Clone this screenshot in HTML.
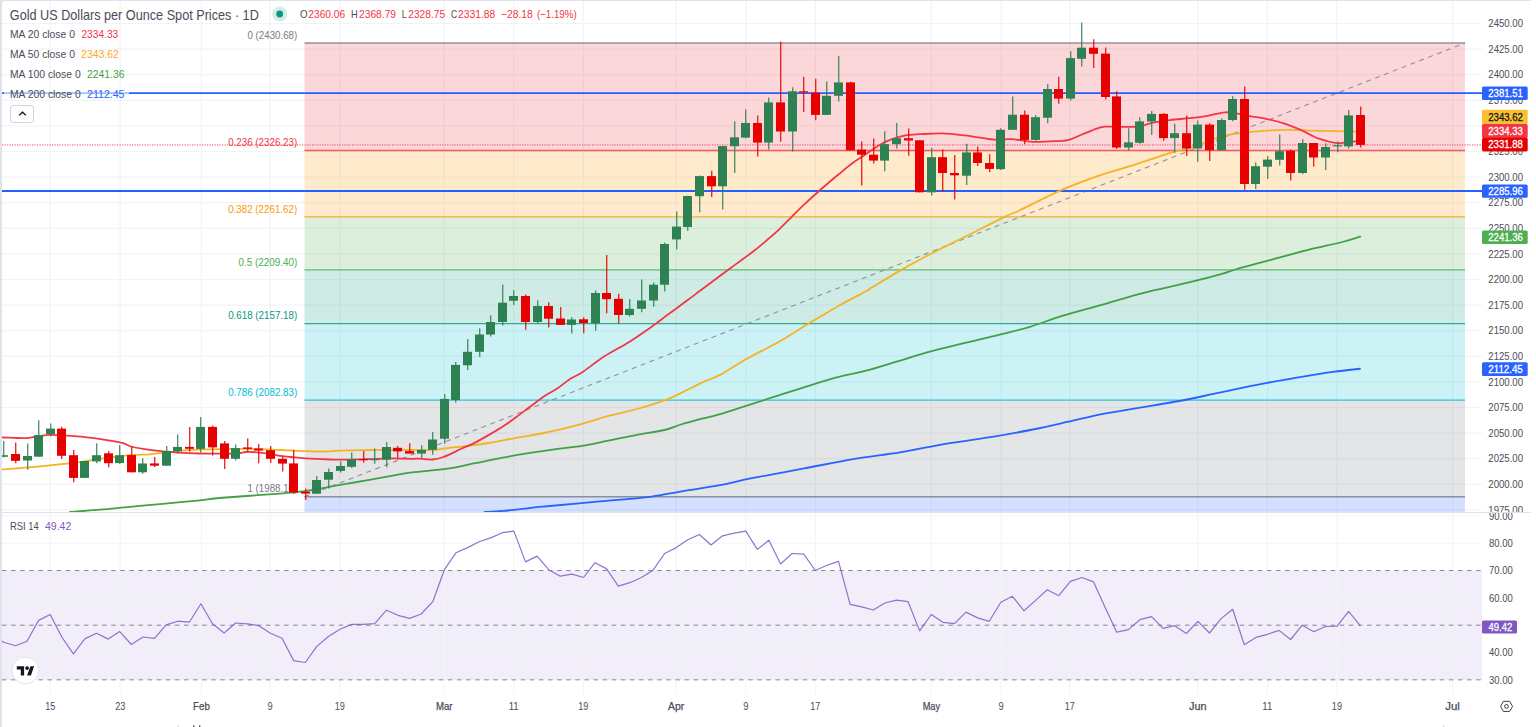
<!DOCTYPE html>
<html><head><meta charset="utf-8"><title>Gold chart</title>
<style>html,body{margin:0;padding:0;background:#fff;overflow:hidden;width:1536px;height:727px}svg{display:block}</style>
</head><body>
<svg width="1536" height="727" viewBox="0 0 1536 727" font-family='"Liberation Sans", sans-serif'>
<defs>
<clipPath id="cm"><rect x="2" y="1" width="1480" height="511"/></clipPath>
<clipPath id="cr"><rect x="2" y="513" width="1480" height="181"/></clipPath>
<clipPath id="cpa"><rect x="1482" y="1" width="54" height="511"/></clipPath>
<clipPath id="cpr"><rect x="1482" y="513" width="54" height="181"/></clipPath>
</defs>
<rect x="0" y="0" width="1536" height="727" fill="#ffffff"/>
<rect x="0" y="0" width="1531" height="727" fill="#e0e3eb"/>
<rect x="2" y="1" width="1560" height="760" rx="3" fill="#ffffff"/>
<g clip-path="url(#cm)">
<path d="M2 23.5H1482M2 49.1H1482M2 74.7H1482M2 100.3H1482M2 125.9H1482M2 151.5H1482M2 177.1H1482M2 202.7H1482M2 228.3H1482M2 253.9H1482M2 279.5H1482M2 305.1H1482M2 330.7H1482M2 356.3H1482M2 381.9H1482M2 407.5H1482M2 433.1H1482M2 458.7H1482M2 484.3H1482M2 509.9H1482M50.2 1V512M120.2 1V512M201.5 1V512M270.1 1V512M339.7 1V512M444.2 1V512M513.7 1V512M583.3 1V512M676.1 1V512M745.8 1V512M815.3 1V512M931.4 1V512M1001 1V512M1069.8 1V512M1197.8 1V512M1267.4 1V512M1336.9 1V512M1452.6 1V512" stroke="#f2f3f6" stroke-width="1.2" fill="none"/>
<rect x="304.5" y="43" width="1160.5" height="107.5" fill="#f23645" fill-opacity="0.2"/>
<rect x="304.5" y="150.5" width="1160.5" height="66.4" fill="#ff9800" fill-opacity="0.2"/>
<rect x="304.5" y="216.9" width="1160.5" height="52.9" fill="#4caf50" fill-opacity="0.2"/>
<rect x="304.5" y="269.8" width="1160.5" height="53.8" fill="#089981" fill-opacity="0.2"/>
<rect x="304.5" y="323.6" width="1160.5" height="76.5" fill="#00bcd4" fill-opacity="0.2"/>
<rect x="304.5" y="400.1" width="1160.5" height="96.6" fill="#787b86" fill-opacity="0.2"/>
<rect x="304.5" y="496.7" width="1160.5" height="20" fill="#2962ff" fill-opacity="0.2"/>
<line x1="304.5" y1="43" x2="1465" y2="43" stroke="#787b86" stroke-width="1.35" stroke-opacity="0.8"/>
<line x1="304.5" y1="150.5" x2="1465" y2="150.5" stroke="#f23645" stroke-width="1.35" stroke-opacity="0.8"/>
<line x1="304.5" y1="216.9" x2="1465" y2="216.9" stroke="#ff9800" stroke-width="1.35" stroke-opacity="0.8"/>
<line x1="304.5" y1="269.8" x2="1465" y2="269.8" stroke="#4caf50" stroke-width="1.35" stroke-opacity="0.8"/>
<line x1="304.5" y1="323.6" x2="1465" y2="323.6" stroke="#089981" stroke-width="1.35" stroke-opacity="0.8"/>
<line x1="304.5" y1="400.1" x2="1465" y2="400.1" stroke="#00bcd4" stroke-width="1.35" stroke-opacity="0.8"/>
<line x1="304.5" y1="496.7" x2="1465" y2="496.7" stroke="#787b86" stroke-width="1.35" stroke-opacity="0.8"/>
<text x="247.5" y="38.7" font-size="11.6" fill="#787b86" textLength="49.7" lengthAdjust="spacingAndGlyphs">0 (2430.68)</text>
<text x="228.2" y="146.2" font-size="11.6" fill="#f23645" textLength="69" lengthAdjust="spacingAndGlyphs">0.236 (2326.23)</text>
<text x="228.2" y="212.6" font-size="11.6" fill="#ff9800" textLength="69" lengthAdjust="spacingAndGlyphs">0.382 (2261.62)</text>
<text x="238.5" y="265.5" font-size="11.6" fill="#4caf50" textLength="58.7" lengthAdjust="spacingAndGlyphs">0.5 (2209.40)</text>
<text x="228.2" y="319.3" font-size="11.6" fill="#089981" textLength="69" lengthAdjust="spacingAndGlyphs">0.618 (2157.18)</text>
<text x="228.2" y="395.8" font-size="11.6" fill="#00bcd4" textLength="69" lengthAdjust="spacingAndGlyphs">0.786 (2082.83)</text>
<text x="247.5" y="492.4" font-size="11.6" fill="#787b86" textLength="49.7" lengthAdjust="spacingAndGlyphs">1 (1988.10)</text>
<line x1="304.5" y1="496.8" x2="1465" y2="43" stroke="#80838d" stroke-width="1.1" stroke-dasharray="5 4.5" stroke-opacity="0.85"/>
<line x1="2" y1="93.15" x2="1482" y2="93.15" stroke="#2260ff" stroke-width="1.9"/>
<line x1="2" y1="190.95" x2="1482" y2="190.95" stroke="#2260ff" stroke-width="1.9"/>
<line x1="2" y1="144.9" x2="1482" y2="144.9" stroke="#f23645" stroke-width="1.7" stroke-dasharray="1.25 1.25" stroke-opacity="0.5"/>
<path d="M484.7 512C487.82 511.82 493.77 511.78 503.4 510.9C513.03 510.02 529.47 508 542.5 506.7C555.53 505.4 568.58 504.27 581.6 503.1C594.62 501.93 608.88 500.78 620.6 499.7C632.32 498.62 641.48 498.03 651.9 496.6C662.32 495.17 671.75 493 683.1 491.1C694.45 489.2 708.52 487.35 720 485.2C731.48 483.05 737.97 481 752 478.2C766.03 475.4 786.82 471.67 804.2 468.4C821.58 465.13 840.33 461.27 856.3 458.6C872.27 455.93 884.9 454.9 900 452.4C915.1 449.9 931.27 446.23 946.9 443.6C962.53 440.97 979.48 438.95 993.8 436.6C1008.12 434.25 1019.78 432.12 1032.8 429.5C1045.82 426.88 1060.18 423.5 1071.9 420.9C1083.62 418.3 1091.75 416.1 1103.1 413.9C1114.45 411.7 1126.4 410.02 1140 407.7C1153.6 405.38 1172.7 402.25 1184.7 400C1196.7 397.75 1202.88 396.15 1212 394.2C1221.12 392.25 1230.4 390.15 1239.4 388.3C1248.4 386.45 1256.9 384.8 1266 383.1C1275.1 381.4 1282.82 379.97 1294 378.1C1305.18 376.23 1322.1 373.46 1333.1 371.9C1344.1 370.34 1355.52 369.27 1360 368.75" fill="none" stroke="#2962ff" stroke-width="1.8" stroke-linejoin="round" stroke-linecap="round"/>
<path d="M70 512C75 511.62 90 510.57 100 509.7C110 508.83 120 507.73 130 506.8C140 505.87 148.33 505.18 160 504.1C171.67 503.02 190.17 501.32 200 500.3C209.83 499.28 205.67 499.12 219 498C232.33 496.88 265.62 494.75 280 493.6C294.38 492.45 297.97 492.07 305.3 491.1C312.63 490.13 317.22 489 324 487.8C330.78 486.6 338.67 485.18 346 483.9C353.33 482.62 360.67 481.38 368 480.1C375.33 478.82 382.67 477.48 390 476.2C397.33 474.92 402.42 473.65 412 472.4C421.58 471.15 437 470.23 447.5 468.7C458 467.17 465.83 465.03 475 463.2C484.17 461.37 493.33 459.42 502.5 457.7C511.67 455.98 520.82 454.38 530 452.9C539.18 451.42 548.93 449.97 557.6 448.8C566.27 447.63 573.35 447.3 582 445.9C590.65 444.5 600.33 442.23 609.5 440.4C618.67 438.57 627.83 436.63 637 434.9C646.17 433.17 657.17 431.73 664.5 430C671.83 428.27 674.58 426.43 681 424.5C687.42 422.57 696.5 420.12 703 418.4C709.5 416.68 709.72 417.28 720 414.2C730.28 411.12 749.8 404.67 764.7 399.9C779.6 395.13 796.88 389.47 809.4 385.6C821.92 381.73 829.7 379.35 839.8 376.7C849.9 374.05 854.65 373.97 870 369.7C885.35 365.43 911.27 356.68 931.9 351.1C952.53 345.52 977.45 340.25 993.8 336.2C1010.15 332.15 1018.75 330.13 1030 326.8C1041.25 323.47 1049.2 319.9 1061.3 316.2C1073.4 312.5 1088.83 308.5 1102.6 304.6C1116.37 300.7 1129.33 296.53 1143.9 292.8C1158.47 289.07 1176.85 285.4 1190 282.2C1203.15 279 1214.98 275.8 1222.8 273.6C1230.62 271.4 1228.7 271.33 1236.9 269C1245.1 266.67 1260.28 262.73 1272 259.6C1283.72 256.47 1295.48 253.13 1307.2 250.2C1318.92 247.27 1333.47 244.25 1342.3 242C1351.13 239.75 1357.22 237.58 1360.2 236.7" fill="none" stroke="#43a047" stroke-width="1.8" stroke-linejoin="round" stroke-linecap="round"/>
<path d="M2 469.4C8.33 468.88 27.83 467.43 40 466.3C52.17 465.17 65 463.83 75 462.6C85 461.37 90.83 460.13 100 458.9C109.17 457.67 121.67 455.97 130 455.2C138.33 454.43 143.33 454.83 150 454.3C156.67 453.77 163.33 452.73 170 452C176.67 451.27 181.67 450.37 190 449.9C198.33 449.43 210.5 449.38 220 449.2C229.5 449.02 237 448.67 247 448.8C257 448.93 270.28 449.62 280 450C289.72 450.38 297.97 450.85 305.3 451.1C312.63 451.35 317.22 451.62 324 451.5C330.78 451.38 338.67 450.65 346 450.4C353.33 450.15 360.67 450.1 368 450C375.33 449.9 382.67 449.8 390 449.8C397.33 449.8 404.7 449.98 412 450C419.3 450.02 427.88 450.22 433.8 449.9C439.72 449.58 441.77 448.78 447.5 448.1C453.23 447.42 461.32 446.65 468.2 445.8C475.08 444.95 480.78 444.33 488.8 443C496.82 441.67 507.13 439.47 516.3 437.8C525.47 436.13 536.52 434.4 543.8 433C551.08 431.6 553.63 430.92 560 429.4C566.37 427.88 573.75 426.18 582 423.9C590.25 421.62 600.33 418.18 609.5 415.7C618.67 413.22 629.67 410.93 637 409C644.33 407.07 648.55 405.65 653.5 404.1C658.45 402.55 662.12 401.53 666.7 399.7C671.28 397.87 674.95 396.03 681 393.1C687.05 390.17 696.5 385.13 703 382.1C709.5 379.07 712.7 378.78 720 374.9C727.3 371.02 736.97 364.32 746.8 358.8C756.63 353.28 768.57 347.75 779 341.8C789.43 335.85 799.27 329.2 809.4 323.1C819.53 317 829.97 310.72 839.8 305.2C849.63 299.68 863.37 292.75 868.4 290C873.43 287.25 864.37 292.13 870 288.7C875.63 285.27 891.88 275.3 902.2 269.4C912.52 263.5 920.75 259.08 931.9 253.3C943.05 247.52 956.72 240.9 969.1 234.7C981.48 228.5 997.72 220.18 1006.2 216.1C1014.68 212.02 1010.82 214.53 1020 210.2C1029.18 205.87 1047.53 196.07 1061.3 190.1C1075.07 184.13 1091.13 178.4 1102.6 174.4C1114.07 170.4 1120.93 168.98 1130.1 166.1C1139.27 163.22 1150.27 159.52 1157.6 157.1C1164.93 154.68 1168.13 153.3 1174.1 151.6C1180.07 149.9 1185.58 149.42 1193.4 146.9C1201.22 144.38 1210.9 139.05 1221 136.5C1231.1 133.95 1243 132.7 1254 131.6C1265 130.5 1276 130.02 1287 129.9C1298 129.78 1307.83 130.62 1320 130.9C1332.17 131.18 1353.33 131.48 1360 131.6" fill="none" stroke="#f5b324" stroke-width="1.8" stroke-linejoin="round" stroke-linecap="round"/>
<path d="M2 437.5C4 437.55 10 437.7 14 437.8C18 437.9 22 438.37 26 438.1C30 437.83 34 436.75 38 436.2C42 435.65 46 434.93 50 434.8C54 434.67 56.17 435 62 435.4C67.83 435.8 75.33 436.03 85 437.2C94.67 438.37 112.33 440.85 120 442.4C127.67 443.95 126 445.25 131 446.5C136 447.75 142.17 448.88 150 449.9C157.83 450.92 169.67 452 178 452.6C186.33 453.2 190.5 453.35 200 453.5C209.5 453.65 227.33 453.75 235 453.5C242.67 453.25 241.83 452.15 246 452C250.17 451.85 255.33 452.15 260 452.6C264.67 453.05 270.67 454.15 274 454.7C277.33 455.25 277.17 455.52 280 455.9C282.83 456.28 286.78 456.58 291 457C295.22 457.42 298.88 457.98 305.3 458.4C311.72 458.82 322.72 459.28 329.5 459.5C336.28 459.72 339.58 459.75 346 459.7C352.42 459.65 360.67 459.42 368 459.2C375.33 458.98 382.67 458.47 390 458.4C397.33 458.33 407 458.75 412 458.8C417 458.85 416.6 458.58 420 458.7C423.4 458.82 428.5 459.78 432.4 459.5C436.3 459.22 438.58 458.78 443.4 457C448.22 455.22 456.03 451.2 461.3 448.8C466.57 446.4 470.42 444.9 475 442.6C479.58 440.3 484.22 437.63 488.8 435C493.38 432.37 497.92 429.78 502.5 426.8C507.08 423.82 511.72 420.43 516.3 417.1C520.88 413.77 525.42 410.23 530 406.8C534.58 403.37 539.2 399.58 543.8 396.5C548.4 393.42 553.23 391.22 557.6 388.3C561.97 385.38 565.87 381.68 570 379C574.13 376.32 576.67 375.98 582.4 372.2C588.13 368.42 596.6 361.35 604.4 356.3C612.2 351.25 621.18 346.93 629.2 341.9C637.22 336.87 646.32 330.45 652.5 326.1C658.68 321.75 660.55 320.05 666.3 315.8C672.05 311.55 681.27 304.85 687 300.6C692.73 296.35 696.12 293.73 700.7 290.3C705.28 286.87 709.97 283.38 714.5 280C719.03 276.62 723.48 273.25 727.9 270C732.32 266.75 736.53 263.78 741 260.5C745.47 257.22 750.37 253.72 754.7 250.3C759.03 246.88 762.83 243.58 767 240C771.17 236.42 775.5 232.75 779.7 228.8C783.9 224.85 788.32 220.17 792.2 216.3C796.08 212.43 798.23 210.07 803 205.6C807.77 201.13 814.85 194.72 820.8 189.5C826.75 184.28 833.5 178.63 838.7 174.3C843.9 169.97 847.62 166.75 852 163.5C856.38 160.25 860.33 157.93 865 154.8C869.67 151.67 875.5 147.3 880 144.7C884.5 142.1 887.77 140.75 892 139.2C896.23 137.65 900.73 136.23 905.4 135.4C910.07 134.57 913.8 134.53 920 134.2C926.2 133.87 935.17 133.2 942.6 133.4C950.03 133.6 958.37 134.7 964.6 135.4C970.83 136.1 974.92 136.9 980 137.6C985.08 138.3 989.77 139.35 995.1 139.6C1000.43 139.85 1005.8 138.73 1012 139.1C1018.2 139.47 1026.08 141.43 1032.3 141.8C1038.52 142.17 1043.37 141.58 1049.3 141.3C1055.23 141.02 1062.45 141.23 1067.9 140.1C1073.35 138.97 1077.2 136.42 1082 134.5C1086.8 132.58 1092.85 129.92 1096.7 128.6C1100.55 127.28 1100.6 126.88 1105.1 126.6C1109.6 126.32 1117.88 126.93 1123.7 126.9C1129.52 126.87 1135.62 127 1140 126.4C1144.38 125.8 1145 124.35 1150 123.3C1155 122.25 1163.33 120.95 1170 120.1C1176.67 119.25 1183.73 118.92 1190 118.2C1196.27 117.48 1201.73 116.78 1207.6 115.8C1213.47 114.82 1219.93 112.63 1225.2 112.3C1230.47 111.97 1235.3 113.22 1239.2 113.8C1243.1 114.38 1244.1 114.97 1248.6 115.8C1253.1 116.63 1260.33 117.53 1266.2 118.8C1272.07 120.07 1277.95 121.5 1283.8 123.4C1289.65 125.3 1295.45 127.65 1301.3 130.2C1307.15 132.75 1313.03 136.55 1318.9 138.7C1324.77 140.85 1331.65 142.55 1336.5 143.1C1341.35 143.65 1344.08 142.35 1348 142C1351.92 141.65 1358 141.17 1360 141" fill="none" stroke="#f23645" stroke-width="1.8" stroke-linejoin="round" stroke-linecap="round"/>
<line x1="3.75" y1="441" x2="3.75" y2="457.3" stroke="#2e8152" stroke-width="1.15"/>
<rect x="-1" y="455.2" width="9" height="1.6" fill="#2e8152"/>
<line x1="15.75" y1="442.4" x2="15.75" y2="463.2" stroke="#e60000" stroke-width="1.15"/>
<rect x="11" y="454" width="9" height="6.8" fill="#e60000"/>
<line x1="27.75" y1="443.4" x2="27.75" y2="469.7" stroke="#2e8152" stroke-width="1.15"/>
<rect x="23" y="456" width="9" height="4.5" fill="#2e8152"/>
<line x1="38.75" y1="420.2" x2="38.75" y2="456.7" stroke="#2e8152" stroke-width="1.15"/>
<rect x="34" y="435.1" width="9" height="21.6" fill="#2e8152"/>
<line x1="50.75" y1="423.6" x2="50.75" y2="436.4" stroke="#2e8152" stroke-width="1.15"/>
<rect x="46" y="428.6" width="9" height="5.5" fill="#2e8152"/>
<line x1="61.75" y1="426.7" x2="61.75" y2="458.9" stroke="#e60000" stroke-width="1.15"/>
<rect x="57" y="428.6" width="9" height="27.2" fill="#e60000"/>
<line x1="73.75" y1="450" x2="73.75" y2="482.2" stroke="#e60000" stroke-width="1.15"/>
<rect x="69" y="455.2" width="9" height="22.7" fill="#e60000"/>
<line x1="84.75" y1="460.8" x2="84.75" y2="477.9" stroke="#2e8152" stroke-width="1.15"/>
<rect x="80" y="461" width="9" height="16.9" fill="#2e8152"/>
<line x1="96.75" y1="443.2" x2="96.75" y2="463.2" stroke="#2e8152" stroke-width="1.15"/>
<rect x="92" y="455.2" width="9" height="6.2" fill="#2e8152"/>
<line x1="108.75" y1="450.9" x2="108.75" y2="467.2" stroke="#e60000" stroke-width="1.15"/>
<rect x="104" y="453.3" width="9" height="9.9" fill="#e60000"/>
<line x1="119.75" y1="445" x2="119.75" y2="463.9" stroke="#2e8152" stroke-width="1.15"/>
<rect x="115" y="455.2" width="9" height="7.8" fill="#2e8152"/>
<line x1="131.75" y1="446.5" x2="131.75" y2="472.3" stroke="#e60000" stroke-width="1.15"/>
<rect x="127" y="455" width="9" height="17.3" fill="#e60000"/>
<line x1="142.75" y1="458.3" x2="142.75" y2="473.8" stroke="#2e8152" stroke-width="1.15"/>
<rect x="138" y="463.5" width="9" height="8.8" fill="#2e8152"/>
<line x1="154.75" y1="457" x2="154.75" y2="467.1" stroke="#e60000" stroke-width="1.15"/>
<rect x="150" y="463.4" width="9" height="2.3" fill="#e60000"/>
<line x1="166.75" y1="446" x2="166.75" y2="465.7" stroke="#2e8152" stroke-width="1.15"/>
<rect x="162" y="451" width="9" height="14.7" fill="#2e8152"/>
<line x1="177.75" y1="434.5" x2="177.75" y2="453.7" stroke="#2e8152" stroke-width="1.15"/>
<rect x="173" y="446.9" width="9" height="4.4" fill="#2e8152"/>
<line x1="189.75" y1="426.9" x2="189.75" y2="451.7" stroke="#e60000" stroke-width="1.15"/>
<rect x="185" y="446.9" width="9" height="1.9" fill="#e60000"/>
<line x1="200.75" y1="416.9" x2="200.75" y2="452.6" stroke="#2e8152" stroke-width="1.15"/>
<rect x="196" y="426.9" width="9" height="22" fill="#2e8152"/>
<line x1="212.75" y1="425.4" x2="212.75" y2="455.4" stroke="#e60000" stroke-width="1.15"/>
<rect x="208" y="426.9" width="9" height="20.5" fill="#e60000"/>
<line x1="224.75" y1="441" x2="224.75" y2="468.9" stroke="#e60000" stroke-width="1.15"/>
<rect x="220" y="443.4" width="9" height="15.4" fill="#e60000"/>
<line x1="235.75" y1="444.4" x2="235.75" y2="460.6" stroke="#2e8152" stroke-width="1.15"/>
<rect x="231" y="448.1" width="9" height="10.7" fill="#2e8152"/>
<line x1="247.75" y1="438.6" x2="247.75" y2="452" stroke="#e60000" stroke-width="1.15"/>
<rect x="243" y="447.4" width="9" height="1.5" fill="#e60000"/>
<line x1="258.75" y1="444.1" x2="258.75" y2="463.2" stroke="#e60000" stroke-width="1.15"/>
<rect x="254" y="448.5" width="9" height="2.1" fill="#e60000"/>
<line x1="270.75" y1="446" x2="270.75" y2="463" stroke="#e60000" stroke-width="1.15"/>
<rect x="266" y="450.2" width="9" height="8.6" fill="#e60000"/>
<line x1="282.75" y1="456.8" x2="282.75" y2="471.5" stroke="#e60000" stroke-width="1.15"/>
<rect x="278" y="458.8" width="9" height="4.8" fill="#e60000"/>
<line x1="293.75" y1="449.9" x2="293.75" y2="493.5" stroke="#e60000" stroke-width="1.15"/>
<rect x="289" y="463.4" width="9" height="29.1" fill="#e60000"/>
<line x1="305.75" y1="488.5" x2="305.75" y2="500" stroke="#e60000" stroke-width="1.15"/>
<rect x="301" y="491.7" width="9" height="1.9" fill="#e60000"/>
<line x1="316.75" y1="475.9" x2="316.75" y2="493.7" stroke="#2e8152" stroke-width="1.15"/>
<rect x="312" y="480" width="9" height="13.7" fill="#2e8152"/>
<line x1="328.75" y1="468.4" x2="328.75" y2="488.6" stroke="#2e8152" stroke-width="1.15"/>
<rect x="324" y="472" width="9" height="7.7" fill="#2e8152"/>
<line x1="340.75" y1="461.3" x2="340.75" y2="472.6" stroke="#2e8152" stroke-width="1.15"/>
<rect x="336" y="466" width="9" height="4.9" fill="#2e8152"/>
<line x1="351.75" y1="452.4" x2="351.75" y2="468" stroke="#2e8152" stroke-width="1.15"/>
<rect x="347" y="459.4" width="9" height="7.4" fill="#2e8152"/>
<line x1="363.75" y1="451.1" x2="363.75" y2="462.7" stroke="#e60000" stroke-width="1.15"/>
<rect x="359" y="459" width="9" height="1.2" fill="#e60000"/>
<line x1="374.75" y1="448.6" x2="374.75" y2="463.8" stroke="#2e8152" stroke-width="1.15"/>
<rect x="370" y="459" width="9" height="1.2" fill="#2e8152"/>
<line x1="386.75" y1="442" x2="386.75" y2="467.3" stroke="#2e8152" stroke-width="1.15"/>
<rect x="382" y="447" width="9" height="12.7" fill="#2e8152"/>
<line x1="397.75" y1="446.1" x2="397.75" y2="458" stroke="#e60000" stroke-width="1.15"/>
<rect x="393" y="447.8" width="9" height="3.6" fill="#e60000"/>
<line x1="409.75" y1="443.2" x2="409.75" y2="453.6" stroke="#e60000" stroke-width="1.15"/>
<rect x="405" y="451.1" width="9" height="2.5" fill="#e60000"/>
<line x1="421.75" y1="445.3" x2="421.75" y2="458" stroke="#2e8152" stroke-width="1.15"/>
<rect x="417" y="449.8" width="9" height="3.8" fill="#2e8152"/>
<line x1="432.75" y1="432.1" x2="432.75" y2="454.7" stroke="#2e8152" stroke-width="1.15"/>
<rect x="428" y="439.5" width="9" height="10.3" fill="#2e8152"/>
<line x1="444.75" y1="394.1" x2="444.75" y2="443.7" stroke="#2e8152" stroke-width="1.15"/>
<rect x="440" y="398.9" width="9" height="39.8" fill="#2e8152"/>
<line x1="455.75" y1="362" x2="455.75" y2="402.5" stroke="#2e8152" stroke-width="1.15"/>
<rect x="451" y="364.9" width="9" height="35.1" fill="#2e8152"/>
<line x1="467.75" y1="338.9" x2="467.75" y2="370.1" stroke="#2e8152" stroke-width="1.15"/>
<rect x="463" y="351.8" width="9" height="13.5" fill="#2e8152"/>
<line x1="479.75" y1="328.3" x2="479.75" y2="357" stroke="#2e8152" stroke-width="1.15"/>
<rect x="475" y="334.5" width="9" height="17.3" fill="#2e8152"/>
<line x1="490.75" y1="315.2" x2="490.75" y2="336.4" stroke="#2e8152" stroke-width="1.15"/>
<rect x="486" y="322" width="9" height="12.5" fill="#2e8152"/>
<line x1="502.75" y1="284.4" x2="502.75" y2="325.4" stroke="#2e8152" stroke-width="1.15"/>
<rect x="498" y="302.7" width="9" height="19.3" fill="#2e8152"/>
<line x1="513.75" y1="290.2" x2="513.75" y2="305" stroke="#2e8152" stroke-width="1.15"/>
<rect x="509" y="296" width="9" height="4.8" fill="#2e8152"/>
<line x1="525.75" y1="294.5" x2="525.75" y2="329.7" stroke="#e60000" stroke-width="1.15"/>
<rect x="521" y="296" width="9" height="26" fill="#e60000"/>
<line x1="537.75" y1="300.2" x2="537.75" y2="323.5" stroke="#2e8152" stroke-width="1.15"/>
<rect x="533" y="306" width="9" height="16" fill="#2e8152"/>
<line x1="548.75" y1="302.3" x2="548.75" y2="327.4" stroke="#e60000" stroke-width="1.15"/>
<rect x="544" y="306" width="9" height="12.7" fill="#e60000"/>
<line x1="560.75" y1="307" x2="560.75" y2="324.9" stroke="#e60000" stroke-width="1.15"/>
<rect x="556" y="318.5" width="9" height="6.4" fill="#e60000"/>
<line x1="571.75" y1="317.2" x2="571.75" y2="333.5" stroke="#2e8152" stroke-width="1.15"/>
<rect x="567" y="319.5" width="9" height="5.4" fill="#2e8152"/>
<line x1="583.75" y1="317.2" x2="583.75" y2="333.3" stroke="#e60000" stroke-width="1.15"/>
<rect x="579" y="319.3" width="9" height="3.7" fill="#e60000"/>
<line x1="595.75" y1="290.4" x2="595.75" y2="330.7" stroke="#2e8152" stroke-width="1.15"/>
<rect x="591" y="293" width="9" height="30.3" fill="#2e8152"/>
<line x1="606.75" y1="255.1" x2="606.75" y2="313.2" stroke="#e60000" stroke-width="1.15"/>
<rect x="602" y="293" width="9" height="6.2" fill="#e60000"/>
<line x1="618.75" y1="293.7" x2="618.75" y2="323.3" stroke="#e60000" stroke-width="1.15"/>
<rect x="614" y="298.8" width="9" height="16.2" fill="#e60000"/>
<line x1="629.75" y1="298.9" x2="629.75" y2="316.4" stroke="#2e8152" stroke-width="1.15"/>
<rect x="625" y="308.8" width="9" height="6.2" fill="#2e8152"/>
<line x1="641.75" y1="279.6" x2="641.75" y2="312.2" stroke="#2e8152" stroke-width="1.15"/>
<rect x="637" y="300.5" width="9" height="8.3" fill="#2e8152"/>
<line x1="653.75" y1="282.4" x2="653.75" y2="306.7" stroke="#2e8152" stroke-width="1.15"/>
<rect x="649" y="284.7" width="9" height="15.8" fill="#2e8152"/>
<line x1="664.75" y1="242.5" x2="664.75" y2="291.6" stroke="#2e8152" stroke-width="1.15"/>
<rect x="660" y="244" width="9" height="40.7" fill="#2e8152"/>
<line x1="676.75" y1="211.4" x2="676.75" y2="249.5" stroke="#2e8152" stroke-width="1.15"/>
<rect x="672" y="226.6" width="9" height="12.8" fill="#2e8152"/>
<line x1="687.75" y1="195.8" x2="687.75" y2="230.7" stroke="#2e8152" stroke-width="1.15"/>
<rect x="683" y="196" width="9" height="31" fill="#2e8152"/>
<line x1="699.75" y1="175.6" x2="699.75" y2="212.3" stroke="#2e8152" stroke-width="1.15"/>
<rect x="695" y="176.1" width="9" height="20.1" fill="#2e8152"/>
<line x1="711.75" y1="170.8" x2="711.75" y2="197.1" stroke="#e60000" stroke-width="1.15"/>
<rect x="707" y="176.1" width="9" height="10.2" fill="#e60000"/>
<line x1="722.75" y1="145.7" x2="722.75" y2="209.6" stroke="#2e8152" stroke-width="1.15"/>
<rect x="718" y="146.1" width="9" height="40.2" fill="#2e8152"/>
<line x1="734.75" y1="121.2" x2="734.75" y2="172.9" stroke="#2e8152" stroke-width="1.15"/>
<rect x="730" y="137.3" width="9" height="8.9" fill="#2e8152"/>
<line x1="745.75" y1="109.5" x2="745.75" y2="138.2" stroke="#2e8152" stroke-width="1.15"/>
<rect x="741" y="123" width="9" height="14.6" fill="#2e8152"/>
<line x1="757.75" y1="115.4" x2="757.75" y2="156.6" stroke="#e60000" stroke-width="1.15"/>
<rect x="753" y="123" width="9" height="19.6" fill="#e60000"/>
<line x1="768.75" y1="97.6" x2="768.75" y2="149.4" stroke="#2e8152" stroke-width="1.15"/>
<rect x="764" y="102.4" width="9" height="40.2" fill="#2e8152"/>
<line x1="780.75" y1="41.6" x2="780.75" y2="141.7" stroke="#e60000" stroke-width="1.15"/>
<rect x="776" y="102.4" width="9" height="29.1" fill="#e60000"/>
<line x1="792.75" y1="87.2" x2="792.75" y2="151.6" stroke="#2e8152" stroke-width="1.15"/>
<rect x="788" y="91.3" width="9" height="40.2" fill="#2e8152"/>
<line x1="803.75" y1="76.8" x2="803.75" y2="111.9" stroke="#e60000" stroke-width="1.15"/>
<rect x="799" y="91.3" width="9" height="1.3" fill="#e60000"/>
<line x1="815.75" y1="78.8" x2="815.75" y2="120.3" stroke="#e60000" stroke-width="1.15"/>
<rect x="811" y="92.6" width="9" height="22.3" fill="#e60000"/>
<line x1="826.75" y1="81.5" x2="826.75" y2="114.9" stroke="#2e8152" stroke-width="1.15"/>
<rect x="822" y="95.8" width="9" height="19.1" fill="#2e8152"/>
<line x1="838.75" y1="55.9" x2="838.75" y2="101.5" stroke="#2e8152" stroke-width="1.15"/>
<rect x="834" y="82.4" width="9" height="13.4" fill="#2e8152"/>
<line x1="850.75" y1="81.8" x2="850.75" y2="150.6" stroke="#e60000" stroke-width="1.15"/>
<rect x="846" y="82.4" width="9" height="67.9" fill="#e60000"/>
<line x1="861.75" y1="141.4" x2="861.75" y2="185.4" stroke="#e60000" stroke-width="1.15"/>
<rect x="857" y="149.6" width="9" height="5.1" fill="#e60000"/>
<line x1="873.75" y1="138.6" x2="873.75" y2="163.6" stroke="#e60000" stroke-width="1.15"/>
<rect x="869" y="154.7" width="9" height="5.9" fill="#e60000"/>
<line x1="884.75" y1="131.3" x2="884.75" y2="171.2" stroke="#2e8152" stroke-width="1.15"/>
<rect x="880" y="144.1" width="9" height="16.5" fill="#2e8152"/>
<line x1="896.75" y1="123.1" x2="896.75" y2="148.5" stroke="#2e8152" stroke-width="1.15"/>
<rect x="892" y="138.2" width="9" height="5.9" fill="#2e8152"/>
<line x1="908.75" y1="128.6" x2="908.75" y2="155.7" stroke="#e60000" stroke-width="1.15"/>
<rect x="904" y="138.2" width="9" height="2.3" fill="#e60000"/>
<line x1="919.75" y1="140" x2="919.75" y2="192.3" stroke="#e60000" stroke-width="1.15"/>
<rect x="915" y="140.3" width="9" height="52" fill="#e60000"/>
<line x1="931.75" y1="147.8" x2="931.75" y2="195.6" stroke="#2e8152" stroke-width="1.15"/>
<rect x="927" y="157.2" width="9" height="35.1" fill="#2e8152"/>
<line x1="942.75" y1="149.6" x2="942.75" y2="191.4" stroke="#e60000" stroke-width="1.15"/>
<rect x="938" y="157.2" width="9" height="15.8" fill="#e60000"/>
<line x1="954.75" y1="155.1" x2="954.75" y2="199.4" stroke="#e60000" stroke-width="1.15"/>
<rect x="950" y="173" width="9" height="2.3" fill="#e60000"/>
<line x1="966.75" y1="143.7" x2="966.75" y2="185" stroke="#2e8152" stroke-width="1.15"/>
<rect x="962" y="152.4" width="9" height="23.3" fill="#2e8152"/>
<line x1="977.75" y1="146.5" x2="977.75" y2="166.1" stroke="#e60000" stroke-width="1.15"/>
<rect x="973" y="152.4" width="9" height="10.6" fill="#e60000"/>
<line x1="989.75" y1="154.3" x2="989.75" y2="172.2" stroke="#e60000" stroke-width="1.15"/>
<rect x="985" y="163" width="9" height="5.9" fill="#e60000"/>
<line x1="1000.75" y1="128.3" x2="1000.75" y2="169.9" stroke="#2e8152" stroke-width="1.15"/>
<rect x="996" y="129.8" width="9" height="39.4" fill="#2e8152"/>
<line x1="1012.75" y1="96.5" x2="1012.75" y2="129.8" stroke="#2e8152" stroke-width="1.15"/>
<rect x="1008" y="114.7" width="9" height="15.1" fill="#2e8152"/>
<line x1="1024.75" y1="110.6" x2="1024.75" y2="144.2" stroke="#e60000" stroke-width="1.15"/>
<rect x="1020" y="114.7" width="9" height="25.2" fill="#e60000"/>
<line x1="1035.75" y1="115.1" x2="1035.75" y2="140.8" stroke="#2e8152" stroke-width="1.15"/>
<rect x="1031" y="117.2" width="9" height="22.7" fill="#2e8152"/>
<line x1="1047.75" y1="84" x2="1047.75" y2="123.3" stroke="#2e8152" stroke-width="1.15"/>
<rect x="1043" y="89" width="9" height="28.7" fill="#2e8152"/>
<line x1="1058.75" y1="76.7" x2="1058.75" y2="103.8" stroke="#e60000" stroke-width="1.15"/>
<rect x="1054" y="89" width="9" height="9.6" fill="#e60000"/>
<line x1="1070.75" y1="51.3" x2="1070.75" y2="100.5" stroke="#2e8152" stroke-width="1.15"/>
<rect x="1066" y="58.1" width="9" height="40.5" fill="#2e8152"/>
<line x1="1081.75" y1="22.6" x2="1081.75" y2="66.6" stroke="#2e8152" stroke-width="1.15"/>
<rect x="1077" y="47.7" width="9" height="11.1" fill="#2e8152"/>
<line x1="1093.75" y1="39.2" x2="1093.75" y2="67.9" stroke="#e60000" stroke-width="1.15"/>
<rect x="1089" y="47.7" width="9" height="6.1" fill="#e60000"/>
<line x1="1105.75" y1="47.4" x2="1105.75" y2="99.4" stroke="#e60000" stroke-width="1.15"/>
<rect x="1101" y="53.6" width="9" height="43.4" fill="#e60000"/>
<line x1="1116.75" y1="91.3" x2="1116.75" y2="149" stroke="#e60000" stroke-width="1.15"/>
<rect x="1112" y="96.4" width="9" height="51.1" fill="#e60000"/>
<line x1="1128.75" y1="128.3" x2="1128.75" y2="150.2" stroke="#2e8152" stroke-width="1.15"/>
<rect x="1124" y="142.4" width="9" height="5.1" fill="#2e8152"/>
<line x1="1139.75" y1="117.2" x2="1139.75" y2="143.8" stroke="#2e8152" stroke-width="1.15"/>
<rect x="1135" y="121.4" width="9" height="21.4" fill="#2e8152"/>
<line x1="1151.75" y1="111" x2="1151.75" y2="135" stroke="#2e8152" stroke-width="1.15"/>
<rect x="1147" y="113.9" width="9" height="7.7" fill="#2e8152"/>
<line x1="1163.75" y1="113" x2="1163.75" y2="140.8" stroke="#e60000" stroke-width="1.15"/>
<rect x="1159" y="113.9" width="9" height="24.2" fill="#e60000"/>
<line x1="1174.75" y1="123.8" x2="1174.75" y2="152.7" stroke="#2e8152" stroke-width="1.15"/>
<rect x="1170" y="133.2" width="9" height="4.9" fill="#2e8152"/>
<line x1="1186.75" y1="115.5" x2="1186.75" y2="156" stroke="#e60000" stroke-width="1.15"/>
<rect x="1182" y="133.2" width="9" height="15.3" fill="#e60000"/>
<line x1="1197.75" y1="120.5" x2="1197.75" y2="161.7" stroke="#2e8152" stroke-width="1.15"/>
<rect x="1193" y="124.6" width="9" height="23.9" fill="#2e8152"/>
<line x1="1209.75" y1="123.3" x2="1209.75" y2="160.9" stroke="#e60000" stroke-width="1.15"/>
<rect x="1205" y="124.6" width="9" height="25.6" fill="#e60000"/>
<line x1="1221.75" y1="118.3" x2="1221.75" y2="150.2" stroke="#2e8152" stroke-width="1.15"/>
<rect x="1217" y="120" width="9" height="30.2" fill="#2e8152"/>
<line x1="1232.75" y1="96.2" x2="1232.75" y2="121.3" stroke="#2e8152" stroke-width="1.15"/>
<rect x="1228" y="99" width="9" height="21" fill="#2e8152"/>
<line x1="1244.75" y1="86.6" x2="1244.75" y2="189.8" stroke="#e60000" stroke-width="1.15"/>
<rect x="1240" y="99" width="9" height="85" fill="#e60000"/>
<line x1="1255.75" y1="162.6" x2="1255.75" y2="189" stroke="#2e8152" stroke-width="1.15"/>
<rect x="1251" y="166.2" width="9" height="17.8" fill="#2e8152"/>
<line x1="1267.75" y1="156" x2="1267.75" y2="179.1" stroke="#2e8152" stroke-width="1.15"/>
<rect x="1263" y="159.6" width="9" height="7.1" fill="#2e8152"/>
<line x1="1279.75" y1="134.5" x2="1279.75" y2="165.5" stroke="#2e8152" stroke-width="1.15"/>
<rect x="1275" y="151.2" width="9" height="8.6" fill="#2e8152"/>
<line x1="1290.75" y1="149.5" x2="1290.75" y2="180.4" stroke="#e60000" stroke-width="1.15"/>
<rect x="1286" y="150.8" width="9" height="22.2" fill="#e60000"/>
<line x1="1302.75" y1="139.3" x2="1302.75" y2="174.2" stroke="#2e8152" stroke-width="1.15"/>
<rect x="1298" y="143" width="9" height="30" fill="#2e8152"/>
<line x1="1313.75" y1="143" x2="1313.75" y2="166.8" stroke="#e60000" stroke-width="1.15"/>
<rect x="1309" y="143" width="9" height="14.5" fill="#e60000"/>
<line x1="1325.75" y1="143.3" x2="1325.75" y2="169.9" stroke="#2e8152" stroke-width="1.15"/>
<rect x="1321" y="147" width="9" height="10.5" fill="#2e8152"/>
<line x1="1337.75" y1="141.4" x2="1337.75" y2="152.2" stroke="#2e8152" stroke-width="1.15"/>
<rect x="1333" y="145.2" width="9" height="1.2" fill="#2e8152"/>
<line x1="1348.75" y1="109.9" x2="1348.75" y2="148.5" stroke="#2e8152" stroke-width="1.15"/>
<rect x="1344" y="115.4" width="9" height="31" fill="#2e8152"/>
<line x1="1360.75" y1="106.4" x2="1360.75" y2="147.6" stroke="#e60000" stroke-width="1.15"/>
<rect x="1356" y="115" width="9" height="29.9" fill="#e60000"/>
</g>
<text x="9.8" y="19.9" font-size="14.2" fill="#4a4d59" textLength="249" lengthAdjust="spacingAndGlyphs">Gold US Dollars per Ounce Spot Prices · 1D</text>
<circle cx="279.7" cy="14" r="7.5" fill="#d5ede8"/><circle cx="279.7" cy="14" r="3.4" fill="#089981"/>
<text x="300" y="17.6" font-size="11.6" fill="#4a4d59" textLength="7.6" lengthAdjust="spacingAndGlyphs">O</text>
<text x="308.3" y="17.6" font-size="11.6" fill="#f23645" textLength="36.9" lengthAdjust="spacingAndGlyphs">2360.06</text>
<text x="350.9" y="17.6" font-size="11.6" fill="#4a4d59" textLength="6.8" lengthAdjust="spacingAndGlyphs">H</text>
<text x="359.1" y="17.6" font-size="11.6" fill="#f23645" textLength="36.9" lengthAdjust="spacingAndGlyphs">2368.79</text>
<text x="401.8" y="17.6" font-size="11.6" fill="#4a4d59" textLength="5" lengthAdjust="spacingAndGlyphs">L</text>
<text x="408.3" y="17.6" font-size="11.6" fill="#f23645" textLength="36.8" lengthAdjust="spacingAndGlyphs">2328.75</text>
<text x="450.9" y="17.6" font-size="11.6" fill="#4a4d59" textLength="6.1" lengthAdjust="spacingAndGlyphs">C</text>
<text x="458" y="17.6" font-size="11.6" fill="#f23645" textLength="37.3" lengthAdjust="spacingAndGlyphs">2331.88</text>
<text x="500.9" y="17.6" font-size="11.6" fill="#f23645" textLength="31.9" lengthAdjust="spacingAndGlyphs">−28.18</text>
<text x="536.9" y="17.6" font-size="11.6" fill="#f23645" textLength="39.8" lengthAdjust="spacingAndGlyphs">(−1.19%)</text>
<rect x="4" y="86" width="125" height="13" fill="#ffffff" fill-opacity="0.6"/>
<text x="10" y="37.9" font-size="11.6" fill="#4a4d59" textLength="64.9" lengthAdjust="spacingAndGlyphs">MA 20 close 0</text>
<text x="81.4" y="37.9" font-size="11.6" fill="#f23645" textLength="36.9" lengthAdjust="spacingAndGlyphs">2334.33</text>
<text x="10" y="57.8" font-size="11.6" fill="#4a4d59" textLength="64.9" lengthAdjust="spacingAndGlyphs">MA 50 close 0</text>
<text x="81.1" y="57.8" font-size="11.6" fill="#f9a825" textLength="37.8" lengthAdjust="spacingAndGlyphs">2343.62</text>
<text x="9.9" y="77.8" font-size="11.6" fill="#4a4d59" textLength="70.8" lengthAdjust="spacingAndGlyphs">MA 100 close 0</text>
<text x="87" y="77.8" font-size="11.6" fill="#43a047" textLength="37.5" lengthAdjust="spacingAndGlyphs">2241.36</text>
<text x="9.9" y="97.8" font-size="11.6" fill="#4a4d59" textLength="70.8" lengthAdjust="spacingAndGlyphs">MA 200 close 0</text>
<text x="87" y="97.8" font-size="11.6" fill="#2962ff" textLength="37.5" lengthAdjust="spacingAndGlyphs">2112.45</text>
<rect x="10.5" y="105.5" width="23" height="17" rx="2.5" fill="#ffffff" stroke="#d1d4dc" stroke-width="1"/>
<path d="M19.2 115.3 L22.5 112.2 L25.8 115.3" fill="none" stroke="#131722" stroke-width="1.3"/>
<g clip-path="url(#cpa)">
<text x="1488.3" y="27.15" font-size="11" fill="#4a4d59" textLength="34.7" lengthAdjust="spacingAndGlyphs">2450.00</text>
<text x="1488.3" y="52.75" font-size="11" fill="#4a4d59" textLength="34.7" lengthAdjust="spacingAndGlyphs">2425.00</text>
<text x="1488.3" y="78.35" font-size="11" fill="#4a4d59" textLength="34.7" lengthAdjust="spacingAndGlyphs">2400.00</text>
<text x="1488.3" y="103.95" font-size="11" fill="#4a4d59" textLength="34.7" lengthAdjust="spacingAndGlyphs">2375.00</text>
<text x="1488.3" y="129.55" font-size="11" fill="#4a4d59" textLength="34.7" lengthAdjust="spacingAndGlyphs">2350.00</text>
<text x="1488.3" y="155.15" font-size="11" fill="#4a4d59" textLength="34.7" lengthAdjust="spacingAndGlyphs">2325.00</text>
<text x="1488.3" y="180.75" font-size="11" fill="#4a4d59" textLength="34.7" lengthAdjust="spacingAndGlyphs">2300.00</text>
<text x="1488.3" y="206.35" font-size="11" fill="#4a4d59" textLength="34.7" lengthAdjust="spacingAndGlyphs">2275.00</text>
<text x="1488.3" y="231.95" font-size="11" fill="#4a4d59" textLength="34.7" lengthAdjust="spacingAndGlyphs">2250.00</text>
<text x="1488.3" y="257.55" font-size="11" fill="#4a4d59" textLength="34.7" lengthAdjust="spacingAndGlyphs">2225.00</text>
<text x="1488.3" y="283.15" font-size="11" fill="#4a4d59" textLength="34.7" lengthAdjust="spacingAndGlyphs">2200.00</text>
<text x="1488.3" y="308.75" font-size="11" fill="#4a4d59" textLength="34.7" lengthAdjust="spacingAndGlyphs">2175.00</text>
<text x="1488.3" y="334.35" font-size="11" fill="#4a4d59" textLength="34.7" lengthAdjust="spacingAndGlyphs">2150.00</text>
<text x="1488.3" y="359.95" font-size="11" fill="#4a4d59" textLength="34.7" lengthAdjust="spacingAndGlyphs">2125.00</text>
<text x="1488.3" y="385.55" font-size="11" fill="#4a4d59" textLength="34.7" lengthAdjust="spacingAndGlyphs">2100.00</text>
<text x="1488.3" y="411.15" font-size="11" fill="#4a4d59" textLength="34.7" lengthAdjust="spacingAndGlyphs">2075.00</text>
<text x="1488.3" y="436.75" font-size="11" fill="#4a4d59" textLength="34.7" lengthAdjust="spacingAndGlyphs">2050.00</text>
<text x="1488.3" y="462.35" font-size="11" fill="#4a4d59" textLength="34.7" lengthAdjust="spacingAndGlyphs">2025.00</text>
<text x="1488.3" y="487.95" font-size="11" fill="#4a4d59" textLength="34.7" lengthAdjust="spacingAndGlyphs">2000.00</text>
<text x="1488.3" y="513.55" font-size="11" fill="#4a4d59" textLength="34.7" lengthAdjust="spacingAndGlyphs">1975.00</text>
</g>
<rect x="1482" y="86.6" width="45.7" height="13.5" rx="1.5" fill="#2962ff"/>
<text x="1488.3" y="97" font-size="11" fill="#ffffff" textLength="34.5" lengthAdjust="spacingAndGlyphs" stroke="#ffffff" stroke-width="0.3">2381.51</text>
<rect x="1482" y="184.4" width="45.7" height="13.3" rx="1.5" fill="#2962ff"/>
<text x="1488.3" y="194.7" font-size="11" fill="#ffffff" textLength="34.5" lengthAdjust="spacingAndGlyphs" stroke="#ffffff" stroke-width="0.3">2285.96</text>
<rect x="1482" y="230.5" width="45.7" height="13.6" rx="1.5" fill="#4caf50"/>
<text x="1488.3" y="240.95" font-size="11" fill="#ffffff" textLength="34.5" lengthAdjust="spacingAndGlyphs" stroke="#ffffff" stroke-width="0.3">2241.36</text>
<rect x="1482" y="362.2" width="45.7" height="13.7" rx="1.5" fill="#2962ff"/>
<text x="1488.3" y="372.7" font-size="11" fill="#ffffff" textLength="34.5" lengthAdjust="spacingAndGlyphs" stroke="#ffffff" stroke-width="0.3">2112.45</text>
<rect x="1482" y="109.7" width="45.7" height="14.5" rx="1.5" fill="#fbc02d"/>
<text x="1488.3" y="120.6" font-size="11" fill="#131722" textLength="34.5" lengthAdjust="spacingAndGlyphs" stroke="#131722" stroke-width="0.3">2343.62</text>
<rect x="1482" y="124" width="45.7" height="14" rx="1.5" fill="#f23645"/>
<text x="1488.3" y="134.65" font-size="11" fill="#ffffff" textLength="34.5" lengthAdjust="spacingAndGlyphs" stroke="#ffffff" stroke-width="0.3">2334.33</text>
<rect x="1482" y="137.8" width="45.7" height="13.8" rx="1.5" fill="#e60000"/>
<text x="1488.3" y="148.35" font-size="11" fill="#ffffff" textLength="34.5" lengthAdjust="spacingAndGlyphs" stroke="#ffffff" stroke-width="0.3">2331.88</text>
<rect x="2" y="512" width="1529" height="1" fill="#e0e3eb"/>
<g clip-path="url(#cr)">
<rect x="2" y="570.55" width="1480" height="109.3" fill="#7e57c2" fill-opacity="0.1"/>
<path d="M2 515.9H1482M2 543.23H1482M2 597.88H1482M2 652.53H1482M50.2 513V694M120.2 513V694M201.5 513V694M270.1 513V694M339.7 513V694M444.2 513V694M513.7 513V694M583.3 513V694M676.1 513V694M745.8 513V694M815.3 513V694M931.4 513V694M1001 513V694M1069.8 513V694M1197.8 513V694M1267.4 513V694M1336.9 513V694M1452.6 513V694" stroke="#f2f3f6" stroke-width="1" fill="none"/>
<line x1="2" y1="570.55" x2="1482" y2="570.55" stroke="#787b86" stroke-width="1" stroke-dasharray="4.5 4.6" stroke-opacity="0.9"/>
<line x1="2" y1="625.2" x2="1482" y2="625.2" stroke="#787b86" stroke-width="1" stroke-dasharray="4.5 4.6" stroke-opacity="0.9"/>
<line x1="2" y1="679.85" x2="1482" y2="679.85" stroke="#787b86" stroke-width="1" stroke-dasharray="4.5 4.6" stroke-opacity="0.9"/>
<polyline points="-7.77,635.9 3.83,642.3 15.42,645.8 27.01,641.3 38.61,620.4 50.2,614.5 61.79,637 73.39,653.9 84.98,638.6 96.57,633.2 108.17,639.1 119.76,631.6 131.35,644.5 142.94,637 154.54,638.3 166.13,624.9 177.72,621.2 189.32,622.2 200.91,603.7 212.5,623.8 224.1,633 235.69,623 247.28,623.8 258.87,625.7 270.47,633.2 282.06,638.3 293.65,660.6 305.25,662.5 316.84,646.4 328.43,636.5 340.02,629.2 351.62,624.4 363.21,624.4 374.8,623.6 386.4,610.2 397.99,615.3 409.58,618.4 421.18,614 432.77,601.7 444.36,569.7 455.95,552.8 467.55,547.6 479.14,541.8 490.73,537.9 502.33,532.7 513.92,531.1 525.51,561.9 537.11,556.1 548.7,569.7 560.29,576.2 571.88,574.1 583.48,577.5 595.07,562.7 606.66,568.9 618.26,586.1 629.85,582.7 641.44,577.5 653.04,570.2 664.63,553.5 676.22,547.6 687.82,539.7 699.41,534.5 711,545 722.59,535.8 734.19,533.2 745.78,531.1 757.37,549.4 768.97,540.3 780.56,564 792.15,553.5 803.75,554.1 815.34,570.5 826.93,565.3 838.52,561.4 850.12,604.3 861.71,606.9 873.3,610 884.9,603 896.49,600.2 908.08,601.7 919.68,630.9 931.27,614.5 942.86,622.3 954.45,623.6 966.05,612.1 977.64,617.9 989.23,621.3 1000.83,602.2 1012.42,596.3 1024.01,610.8 1035.61,600.4 1047.2,589.7 1058.79,595.7 1070.38,581.4 1081.98,577.5 1093.57,581.9 1105.16,607.4 1116.76,632.2 1128.35,629.6 1139.94,619.7 1151.54,616.6 1163.13,628.3 1174.72,625.7 1186.31,633.5 1197.91,621.3 1209.5,633 1221.09,618.6 1232.69,609.3 1244.28,644.7 1255.87,637.4 1267.47,634.3 1279.06,630.4 1290.65,639.5 1302.24,625.2 1313.84,631.7 1325.43,626.5 1337.02,626.2 1348.62,611.4 1360.21,625.7" fill="none" stroke="#8763c6" stroke-width="1.2" stroke-opacity="0.9" stroke-linejoin="round"/>
</g>
<text x="10.1" y="529.6" font-size="11.6" fill="#4a4d59" textLength="28.6" lengthAdjust="spacingAndGlyphs">RSI 14</text>
<text x="45" y="529.6" font-size="11.6" fill="#7e57c2" textLength="26.2" lengthAdjust="spacingAndGlyphs">49.42</text>
<circle cx="25.4" cy="670.5" r="13.4" fill="#ffffff" stroke="#e4e2ee" stroke-width="1"/>
<path d="M16.8 666.2H24.1V675.5H20.8V669.5H16.8Z M30.4 666.2H34.1L30.9 675.5H27.1Z" fill="#131722"/><circle cx="27.1" cy="668.1" r="1.9" fill="#131722"/>
<g clip-path="url(#cpr)">
<text x="1489" y="519.55" font-size="11" fill="#4a4d59" textLength="23.8" lengthAdjust="spacingAndGlyphs">90.00</text>
<text x="1489" y="546.88" font-size="11" fill="#4a4d59" textLength="23.8" lengthAdjust="spacingAndGlyphs">80.00</text>
<text x="1489" y="574.2" font-size="11" fill="#4a4d59" textLength="23.8" lengthAdjust="spacingAndGlyphs">70.00</text>
<text x="1489" y="601.52" font-size="11" fill="#4a4d59" textLength="23.8" lengthAdjust="spacingAndGlyphs">60.00</text>
<text x="1489" y="656.18" font-size="11" fill="#4a4d59" textLength="23.8" lengthAdjust="spacingAndGlyphs">40.00</text>
<text x="1489" y="683.5" font-size="11" fill="#4a4d59" textLength="23.8" lengthAdjust="spacingAndGlyphs">30.00</text>
</g>
<rect x="1482" y="620.5" width="35" height="13" rx="1.5" fill="#7e57c2"/>
<text x="1488.5" y="630.7" font-size="11" fill="#ffffff" textLength="23.8" lengthAdjust="spacingAndGlyphs" stroke="#ffffff" stroke-width="0.3">49.42</text>
<text x="45.15" y="710" font-size="10.6" fill="#4a4d59" textLength="10.1" lengthAdjust="spacingAndGlyphs">15</text>
<text x="115.15" y="710" font-size="10.6" fill="#4a4d59" textLength="10.1" lengthAdjust="spacingAndGlyphs">23</text>
<text x="193.1" y="710" font-size="10.6" fill="#4a4d59" textLength="16.8" lengthAdjust="spacingAndGlyphs" stroke="#4a4d59" stroke-width="0.25">Feb</text>
<text x="267.5" y="710" font-size="10.6" fill="#4a4d59" textLength="5.2" lengthAdjust="spacingAndGlyphs">9</text>
<text x="334.65" y="710" font-size="10.6" fill="#4a4d59" textLength="10.1" lengthAdjust="spacingAndGlyphs">19</text>
<text x="435.9" y="710" font-size="10.6" fill="#4a4d59" textLength="16.6" lengthAdjust="spacingAndGlyphs" stroke="#4a4d59" stroke-width="0.25">Mar</text>
<text x="508.65" y="710" font-size="10.6" fill="#4a4d59" textLength="10.1" lengthAdjust="spacingAndGlyphs">11</text>
<text x="578.25" y="710" font-size="10.6" fill="#4a4d59" textLength="10.1" lengthAdjust="spacingAndGlyphs">19</text>
<text x="667.95" y="710" font-size="10.6" fill="#4a4d59" textLength="16.3" lengthAdjust="spacingAndGlyphs" stroke="#4a4d59" stroke-width="0.25">Apr</text>
<text x="743.2" y="710" font-size="10.6" fill="#4a4d59" textLength="5.2" lengthAdjust="spacingAndGlyphs">9</text>
<text x="810.25" y="710" font-size="10.6" fill="#4a4d59" textLength="10.1" lengthAdjust="spacingAndGlyphs">17</text>
<text x="922.65" y="710" font-size="10.6" fill="#4a4d59" textLength="17.5" lengthAdjust="spacingAndGlyphs" stroke="#4a4d59" stroke-width="0.25">May</text>
<text x="998.4" y="710" font-size="10.6" fill="#4a4d59" textLength="5.2" lengthAdjust="spacingAndGlyphs">9</text>
<text x="1064.75" y="710" font-size="10.6" fill="#4a4d59" textLength="10.1" lengthAdjust="spacingAndGlyphs">17</text>
<text x="1189.05" y="710" font-size="10.6" fill="#4a4d59" textLength="17.5" lengthAdjust="spacingAndGlyphs" stroke="#4a4d59" stroke-width="0.25">Jun</text>
<text x="1262.35" y="710" font-size="10.6" fill="#4a4d59" textLength="10.1" lengthAdjust="spacingAndGlyphs">11</text>
<text x="1331.85" y="710" font-size="10.6" fill="#4a4d59" textLength="10.1" lengthAdjust="spacingAndGlyphs">19</text>
<text x="1445.3" y="710" font-size="10.6" fill="#4a4d59" textLength="14.6" lengthAdjust="spacingAndGlyphs" stroke="#4a4d59" stroke-width="0.25">Jul</text>
<path d="M1503.4 701.3H1509.6L1512.6 706.4L1509.6 711.4H1503.4L1500.6 706.4Z" fill="none" stroke="#3a3d48" stroke-width="1"/><circle cx="1506.5" cy="706.4" r="1.9" fill="none" stroke="#3a3d48" stroke-width="1"/>
<rect x="177.7" y="725" width="1.2" height="2" fill="#d5d8e6"/><rect x="193" y="725.3" width="1.4" height="1.7" fill="#55585f"/><rect x="199" y="725.3" width="1.4" height="1.7" fill="#55585f"/><rect x="1443" y="725" width="1.2" height="2" fill="#d5d8e6"/>
</svg>
</body></html>
